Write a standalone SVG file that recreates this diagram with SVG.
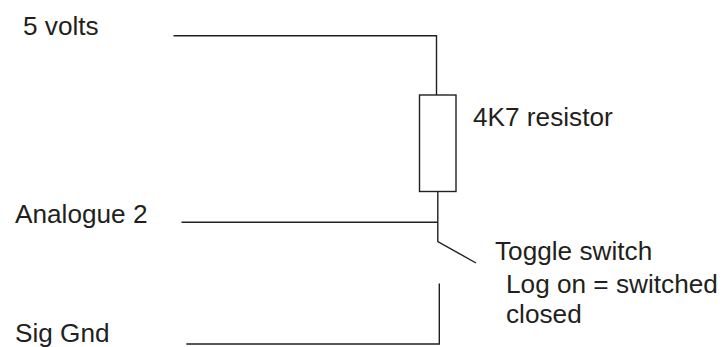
<svg xmlns="http://www.w3.org/2000/svg" width="725" height="347" viewBox="0 0 725 347">
<style>
.w{fill:none;stroke:#231f20;stroke-width:1.4;stroke-linecap:butt;stroke-linejoin:miter}
.t{font-family:"Liberation Sans",Arial,sans-serif;font-size:26.2px;fill:#231f20}
</style>
<rect width="725" height="347" fill="#fff"/>
<g id="labels">
<text class="t" x="23" y="35">5 volts</text>
<text class="t" x="15" y="223">Analogue 2</text>
<text class="t" x="15" y="342">Sig Gnd</text>
</g>
<g id="resistor">
<rect class="w" x="419.5" y="95" width="36.5" height="96.5"/>
<text class="t" x="473" y="126">4K7 resistor</text>
</g>
<g id="switch">
<text class="t" x="495" y="260">Toggle switch</text>
<text class="t" x="506" y="293">Log on = switched</text>
<text class="t" x="506" y="323">closed</text>
</g>
<g id="connectors">
<polyline class="w" points="173.5,35.7 436.5,35.7 436.5,95"/>
<polyline class="w" points="437.8,191.5 437.8,241.5 476,263"/>
<line class="w" x1="181.5" y1="222.3" x2="437.8" y2="222.3"/>
<polyline class="w" points="439.3,283.5 439.3,344 186.3,344"/>
</g>
</svg>
